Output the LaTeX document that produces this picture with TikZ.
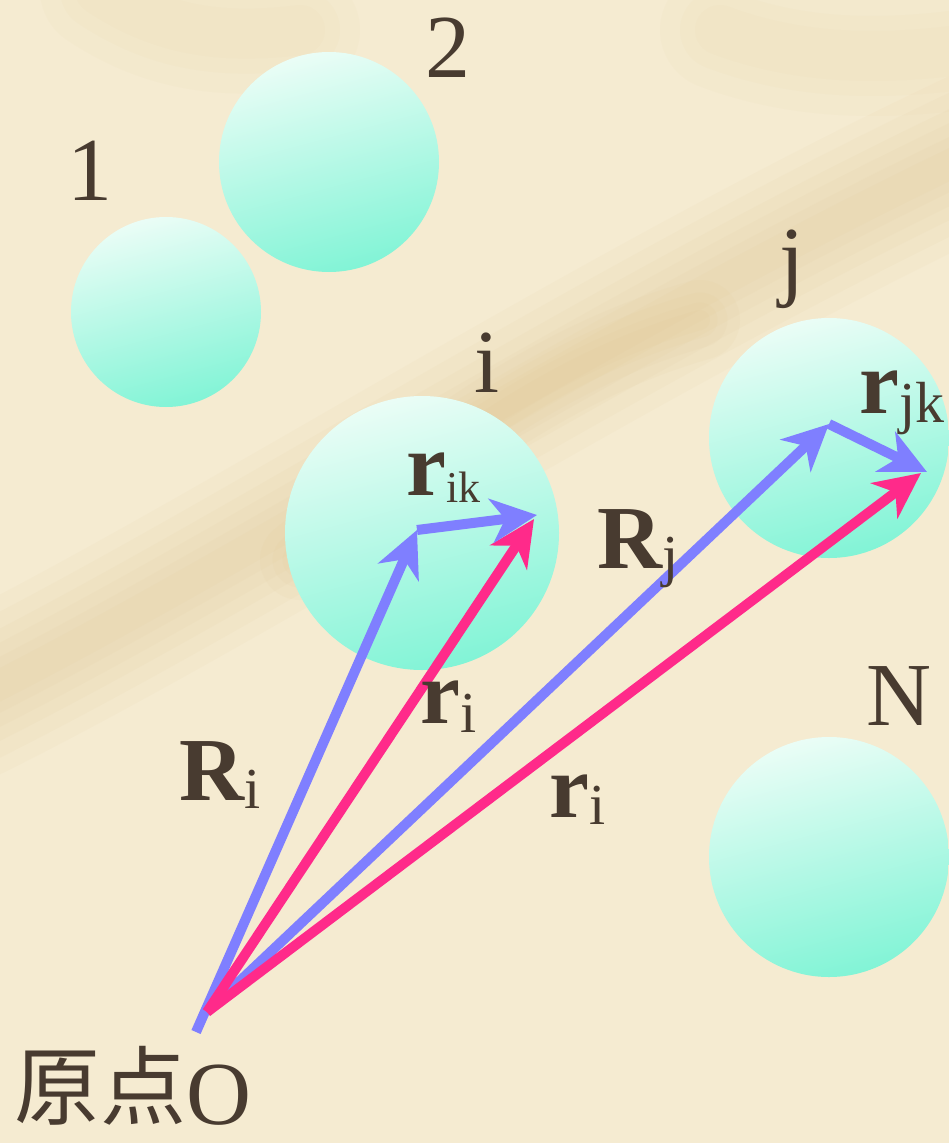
\documentclass[tikz,border=0pt]{standalone}
\usepackage{fontspec}
\setmainfont{Liberation Serif}
\newfontfamily\cjk{Noto Sans CJK SC}
\usetikzlibrary{arrows.meta}
\definecolor{bg}{HTML}{F5EBD1}
\definecolor{streak}{HTML}{D8B676}
\definecolor{ink}{HTML}{483B30}
\definecolor{vblue}{HTML}{7F7FFF}
\definecolor{vpink}{HTML}{FF2A8A}
\definecolor{balltop}{HTML}{EAFDF6}
\definecolor{ballbot}{HTML}{82F4D6}
\newcommand{\BigT}[1]{{\fontsize{90}{90}\selectfont #1}}
\newcommand{\SubT}[3]{{\fontsize{#1}{#1}\selectfont\raisebox{-#2pt}{#3}}}
\tikzset{
  ball/.style={circle, inner sep=0pt, top color=balltop, bottom color=ballbot, shading angle=15, draw=none},
  vec/.style={line width=10pt, -{Stealth[length=46pt, width=44pt, inset=14pt]}},
  bluevec/.style={vec, vblue},
  pinkvec/.style={vec, vpink},
  lab/.style={anchor=base west, inner sep=0pt, text=ink},
  soft/.style={streak, opacity=0.05, line cap=round},
}
\begin{document}
\begin{tikzpicture}[x=1pt, y=-1pt]
\fill[bg] (0,0) rectangle (949,1143);
\useasboundingbox (0,0) rectangle (949,1143);
% parchment streaks (soft, layered)
\foreach \w in {160,130,100,75,50,30} {
  \draw[soft, line width=\w pt] (-30,700) .. controls (250,560) and (600,330) .. (980,150);
}
\foreach \w in {80,55,35,20} {
  \draw[soft, line width=\w pt] (300,560) .. controls (450,440) and (560,360) .. (700,320);
}
\foreach \w in {120,80,50} {
  \draw[soft, opacity=0.035, line width=\w pt] (100,-10) .. controls (160,30) and (220,40) .. (300,30);
  \draw[soft, opacity=0.035, line width=\w pt] (720,30) .. controls (800,60) and (880,60) .. (960,50);
}
% balls
\node[ball, minimum size=190pt] (b1) at (166,312) {};
\node[ball, minimum size=220pt] (b2) at (329,162) {};
\node[ball, minimum size=274pt] (bi) at (422,533) {};
\node[ball, minimum size=240pt] (bj) at (829,438) {};
\node[ball, minimum size=240pt] (bN) at (829,857) {};
% vector end points
\coordinate (O1) at (196,1032);
\coordinate (O) at (207,1012);
\coordinate (A) at (417,530);
\coordinate (B) at (537,515);
\coordinate (Bp) at (534,519);
\coordinate (C) at (829,424);
\coordinate (D) at (927,472);
\coordinate (Dp) at (921,473);
% vectors
\draw[bluevec] (O1) -- (A);
\draw[bluevec] (O) -- (C);
\draw[pinkvec] (O) -- (Bp);
\draw[pinkvec] (O) -- (Dp);
\draw[bluevec] (A) -- (B);
\draw[bluevec] (C) -- (D);
% labels
\node[lab] (l1) at (67,200) {\BigT{1}};
\node[lab] (l2) at (425,77) {\BigT{2}};
\node[lab] (li) at (474,392) {\BigT{i}};
\node[lab] (lj) at (779,289) {\BigT{j}};
\node[lab] (lN) at (866,725) {\BigT{N}};
\node[lab] (lRi) at (179,800) {\BigT{\textbf{R}}\SubT{58}{8}{i}};
\node[lab] (lri1) at (420,723) {\BigT{\textbf{r}}\SubT{58}{9}{i}};
\node[lab] (lri2) at (549,817) {\BigT{\textbf{r}}\SubT{58}{7}{i}};
\node[lab] (lRj) at (597,568) {\BigT{\textbf{R}}\SubT{58}{7}{j}};
\node[lab] (lrik) at (406,495) {\BigT{\textbf{r}}\SubT{44}{7}{ik}};
\node[lab] (lrjk) at (859,413) {\BigT{\textbf{r}}\SubT{58}{9}{jk}};
\node[lab] (lO) at (14,1124) {\raisebox{6pt}{\cjk\fontsize{86}{86}\selectfont 原点}\BigT{O}};
\end{tikzpicture}
\end{document}
